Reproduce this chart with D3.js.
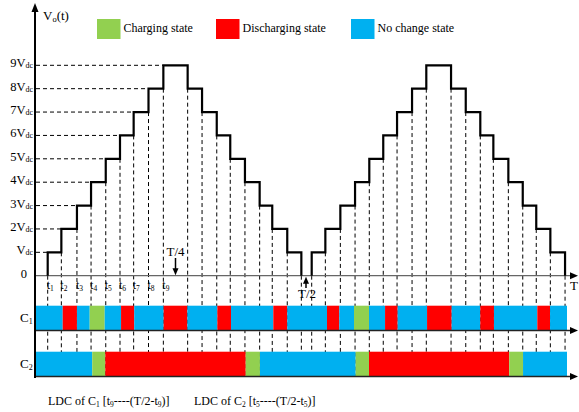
<!DOCTYPE html>
<html>
<head>
<meta charset="utf-8">
<script src="https://cdn.jsdelivr.net/npm/d3@7"></script>
<style>
  html, body { margin: 0; padding: 0; background: #fff; }
  svg { display: block; font-family: "Liberation Serif", "Times New Roman", serif; }
</style>
</head>
<body>
<svg id="chart" width="579" height="412"></svg>
<script>
// Switching instants of the 9-level staircase, in degrees of one period T = 360
const riseA = [7.8, 16.9, 27.3, 36.7, 46.5, 56.0, 65.1, 75.0, 84.9];
const fallA = [101.1, 110.7, 120.5, 129.5, 139.3, 149.1, 157.5, 167.5, 176.9];
const riseB = [183.8, 192.9, 202.9, 212.7, 222.2, 231.5, 240.7, 250.7, 260.2];
const fallB = [276.7, 286.5, 296.2, 304.9, 314.9, 324.5, 333.5, 342.9, 352.7];

// Output voltage levels (multiples of Vdc) and their labels
const levels = [0, 1, 2, 3, 4, 5, 6, 7, 8, 9];
const levelNames = ["0", "V", "2V", "3V", "4V", "5V", "6V", "7V", "8V", "9V"];

// Switching-instant names along the time axis (t1..t9)
const instantNames = ["1", "2", "3", "4", "5", "6", "7", "8", "9"];

// Period markers
const markerNames = ["T/4", "T/2"];
const markerTimes = [93, 180];

// Capacitor states: segment start times, states, and end of the record
const c1Starts = [0, 17.8, 27.3, 35.8, 45.8, 56.7, 65.5, 85.1, 100.9, 120.9, 130, 158.2, 167.5,
                  194, 202.2, 212, 222, 232.7, 241.1, 260.7, 277.1, 296.2, 305.3, 334.2, 342.7];
const c1States = ["n", "d", "n", "c", "n", "d", "n", "d", "n", "d", "n", "d", "n",
                  "d", "n", "c", "n", "d", "n", "d", "n", "d", "n", "d", "n"];
const c2Starts = [0, 37.5, 46.2, 139.8, 149.3, 213.1, 222, 315.5, 324.7];
const c2States = ["n", "c", "d", "c", "n", "c", "d", "c", "n"];
const recordEnd = 354;

// Legend
const stateKeys = ["c", "d", "n"];
const stateNames = ["Charging state", "Discharging state", "No change state"];
const stateColors = ["#92D050", "#FF0000", "#00B0F0"];

const svg = d3.select("#chart");
const color = d3.scaleOrdinal().domain(stateKeys).range(stateColors);

const x = d3.scaleLinear().domain([0, 360]).range([36, 576]);
const y = d3.scaleLinear().domain([0, 9]).range([275.7, 65.3]);
const row = d3.scaleBand().domain(["C1", "C2"]).range([305.7, 376]).paddingInner(0.472).paddingOuter(0);
const axisX = 35, bottomY = 377, arrowEnd = 578;

// Build the edge list: each edge = time, level before, level after
function humpEdges(rise, fall) {
  const e = [];
  rise.forEach((t, i) => e.push({ t, from: i, to: i + 1, rising: true, idx: i }));
  fall.forEach((t, i) => e.push({ t, from: 9 - i, to: 8 - i, rising: false, idx: i }));
  return e;
}
const humps = [humpEdges(riseA, fallA), humpEdges(riseB, fallB)];
const allEdges = humps.flat();

// Vertical dashed guides from the lower level of every edge down to the bottom
svg.append("g").selectAll("line").data(allEdges).join("line")
  .attr("x1", d => x(d.t)).attr("x2", d => x(d.t))
  .attr("y1", d => y(Math.min(d.from, d.to))).attr("y2", bottomY)
  .attr("stroke", "#000").attr("stroke-width", 1).attr("stroke-dasharray", "4,3");

// Horizontal dashed guides from the axis to the first rising edge of each level
svg.append("g").selectAll("line").data(levels.slice(1)).join("line")
  .attr("x1", x(0)).attr("x2", (d) => x(riseA[d - 1]))
  .attr("y1", d => y(d)).attr("y2", d => y(d))
  .attr("stroke", "#000").attr("stroke-width", 1).attr("stroke-dasharray", "4,3");

// Zero line
svg.append("line").attr("x1", axisX).attr("x2", arrowEnd - 4).attr("y1", y(0)).attr("y2", y(0))
  .attr("stroke", "#666").attr("stroke-width", 1.3);

// Staircase waveform, one path per hump
humps.forEach(edges => {
  let p = d3.path();
  p.moveTo(x(edges[0].t), y(0));
  edges.forEach((e, i) => {
    p.lineTo(x(e.t), y(e.to));
    if (i < edges.length - 1) p.lineTo(x(edges[i + 1].t), y(e.to));
  });
  svg.append("path").attr("d", p.toString()).attr("fill", "none")
    .attr("stroke", "#000").attr("stroke-width", 2.2).attr("stroke-linejoin", "miter");
});

// State bars
function segs(starts, states) {
  return starts.map((s, i) => ({ s, e: i < starts.length - 1 ? starts[i + 1] : recordEnd, k: states[i] }));
}
[["C1", segs(c1Starts, c1States)], ["C2", segs(c2Starts, c2States)]].forEach(([name, data]) => {
  svg.append("g").selectAll("rect").data(data).join("rect")
    .attr("x", d => x(d.s)).attr("width", d => x(d.e) - x(d.s))
    .attr("y", row(name)).attr("height", row.bandwidth())
    .attr("fill", d => color(d.k));
  const ly = row(name) + row.bandwidth() + 0.5;
  svg.append("line").attr("x1", axisX).attr("x2", arrowEnd - 4).attr("y1", ly).attr("y2", ly)
    .attr("stroke", "#222").attr("stroke-width", 1.4);
  svg.append("path").attr("d", `M${arrowEnd},${ly} l-8,-3.5 l0,7 z`).attr("fill", "#000");
  const lbl = svg.append("text").attr("x", 20).attr("y", row(name) + row.bandwidth() / 2 + 4.5)
    .attr("font-size", 13).attr("fill", "#000");
  lbl.append("tspan").text("C");
  lbl.append("tspan").attr("font-size", 8).attr("dy", 2).text(name.slice(1));
});

// Zero-line arrow and T label
svg.append("path").attr("d", `M${arrowEnd},${y(0)} l-8,-3.5 l0,7 z`).attr("fill", "#000");
svg.append("text").attr("x", 574).attr("y", 290).attr("text-anchor", "middle")
  .attr("font-size", 13).text("T");

// Vertical axis with arrow
svg.append("line").attr("x1", axisX).attr("x2", axisX).attr("y1", bottomY + 1).attr("y2", 10)
  .attr("stroke", "#000").attr("stroke-width", 2);
svg.append("path").attr("d", `M${axisX},3 l-3.5,9 l7,0 z`).attr("fill", "#000");

// Axis title V0(t)
const title = svg.append("text").attr("x", 43).attr("y", 19.5).attr("font-size", 13);
title.append("tspan").text("V");
title.append("tspan").attr("font-size", 8.5).attr("dy", 2).text("o");
title.append("tspan").attr("dy", -2).text("(t)");

// Level labels
const lv = svg.append("g").selectAll("text").data(levels).join("text")
  .attr("x", d => d === 0 ? 27 : 33).attr("y", d => y(d) + 2)
  .attr("text-anchor", "end").attr("font-size", 12.5);
lv.append("tspan").text(d => levelNames[d]);
lv.filter(d => d > 0).append("tspan").attr("font-size", 8).attr("dy", 1).text("dc");

// Switching instant labels t1..t9
const tl = svg.append("g").selectAll("text").data(instantNames).join("text")
  .attr("x", (d, i) => x(riseA[i]) - 1).attr("y", 289).attr("font-size", 12);
tl.append("tspan").text("t");
tl.append("tspan").attr("font-size", 7.5).attr("dy", 1.5).text(d => d);

// T/4 marker (arrow pointing down to the axis) and T/2 marker (arrow pointing up)
const m4 = x(markerTimes[0]);
svg.append("text").attr("x", m4).attr("y", 256).attr("text-anchor", "middle")
  .attr("font-size", 13).text(markerNames[0]);
svg.append("line").attr("x1", m4).attr("x2", m4).attr("y1", 258).attr("y2", 270)
  .attr("stroke", "#000").attr("stroke-width", 1.5);
svg.append("path").attr("d", `M${m4},${y(0) - 0.5} l-3,-7 l6,0 z`).attr("fill", "#000");

const m2 = x(markerTimes[1]);
svg.append("line").attr("x1", m2).attr("x2", m2).attr("y1", 281).attr("y2", 288)
  .attr("stroke", "#000").attr("stroke-width", 1.5);
svg.append("path").attr("d", `M${m2},${y(0) + 1} l-3,7 l6,0 z`).attr("fill", "#000");
svg.append("text").attr("x", m2 + 1).attr("y", 298).attr("text-anchor", "middle")
  .attr("font-size", 13).text(markerNames[1]);

// Legend
const legendX = [97, 216, 351];
const lg = svg.append("g").selectAll("g").data(stateKeys).join("g")
  .attr("transform", (d, i) => `translate(${legendX[i]},19)`);
lg.append("rect").attr("width", 23.5).attr("height", 20).attr("fill", d => color(d));
lg.append("text").attr("x", 26.5).attr("y", 13).attr("font-size", 12)
  .text((d, i) => stateNames[i]);

// Lowest-duty-cycle notes
function note(xPos, cap, inst) {
  const t = svg.append("text").attr("x", xPos).attr("y", 405).attr("font-size", 12);
  t.append("tspan").text("LDC of C");
  t.append("tspan").attr("font-size", 7.5).attr("dy", 1.5).text(cap);
  t.append("tspan").attr("dy", -1.5).text(" [t");
  t.append("tspan").attr("font-size", 7.5).attr("dy", 1.5).text(inst);
  t.append("tspan").attr("dy", -1.5).text("----(T/2-t");
  t.append("tspan").attr("font-size", 7.5).attr("dy", 1.5).text(inst);
  t.append("tspan").attr("dy", -1.5).text(")]");
}
note(48, "1", "9");
note(194, "2", "5");
</script>
</body>
</html>
